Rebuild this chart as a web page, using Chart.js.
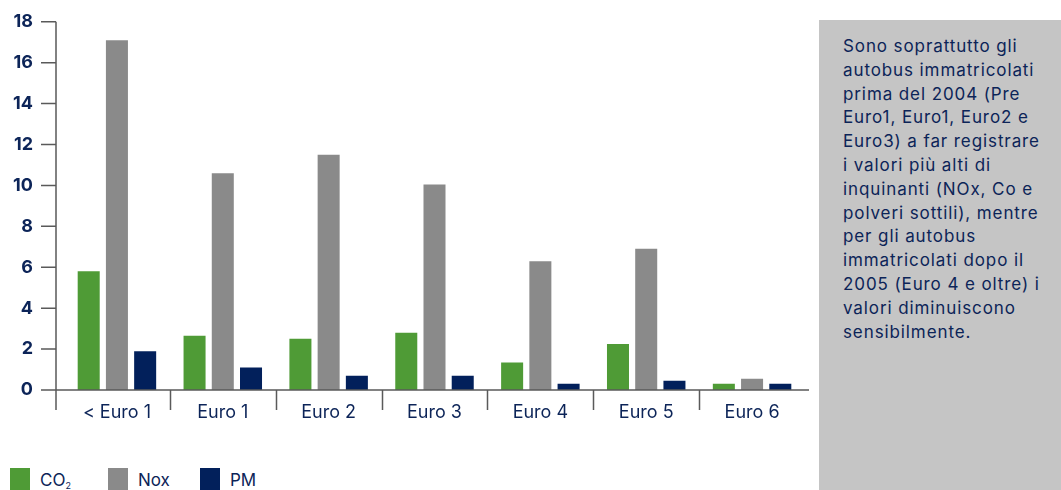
<!DOCTYPE html>
<html>
<head>
<meta charset="utf-8">
<script src="https://cdn.jsdelivr.net/npm/chart.js@4"></script>
<style>
  html, body { margin: 0; padding: 0; background: #fff; }
  body { width: 1061px; height: 490px; position: relative; overflow: hidden; font-family: Inter, "Noto Sans", sans-serif; color: #0c2458; }
  #wrap { position: absolute; left: 0; top: -20px; width: 820px; height: 452px; }
  #note { position: absolute; left: 819px; top: 20px; width: 218px; height: 470px; background: #c5c5c5;
          padding: 15px 0 0 24px; font-size: 17px; letter-spacing: 0.9px; line-height: 23.8px; color: #0c2458; }
  #legend { position: absolute; left: 10px; top: 468px; font-size: 17px; }
  .item { position: absolute; top: 0; white-space: nowrap; }
  .sw { position: absolute; left: 0; top: 0; width: 20px; height: 22px; }
  .lb { position: absolute; left: 30px; top: 2px; }
  sub { font-size: 9px; vertical-align: -3px; }
</style>
</head>
<body>
<div id="wrap"><canvas id="chart"></canvas></div>
<div id="note">Sono soprattutto gli<br>autobus immatricolati<br>prima del 2004 (Pre<br>Euro1, Euro1, Euro2 e<br>Euro3) a far registrare<br>i valori più alti di<br>inquinanti (NOx, Co e<br>polveri sottili), mentre<br>per gli autobus<br>immatricolati dopo il<br>2005 (Euro 4 e oltre) i<br>valori diminuiscono<br>sensibilmente.</div>
<div id="legend">
  <div class="item" style="left:0"><div class="sw" style="background:#4f9b36"></div><div class="lb">CO<sub>2</sub></div></div>
  <div class="item" style="left:98px"><div class="sw" style="background:#8a8a8a"></div><div class="lb">Nox</div></div>
  <div class="item" style="left:190px"><div class="sw" style="background:#02205b"></div><div class="lb">PM</div></div>
</div>
<script>
const categories = ['< Euro 1', 'Euro 1', 'Euro 2', 'Euro 3', 'Euro 4', 'Euro 5', 'Euro 6'];
const co2 = [5.8, 2.65, 2.5, 2.8, 1.35, 2.25, 0.3];
const nox = [17.1, 10.6, 11.5, 10.05, 6.3, 6.9, 0.55];
const pm = [1.9, 1.1, 0.7, 0.7, 0.3, 0.45, 0.3];
const yTicks = [0, 2, 4, 6, 8, 10, 12, 14, 16, 18];

const navy = '#0c2458';
const axisColor = '#5a5a5a';

// axis lines and tick marks, drawn by hand to match the original layout
const axisPlugin = {
    id: 'axisLines',
    afterDraw(chart) {
        const ctx = chart.ctx;
        const y = chart.scales.y;
        const area = chart.chartArea;
        const axisX = area.left - 8;
        const zeroY = y.getPixelForValue(0);
        ctx.save();
        ctx.strokeStyle = axisColor;
        ctx.lineWidth = 1.5;
        ctx.beginPath();
        ctx.moveTo(axisX, y.getPixelForValue(18));
        ctx.lineTo(axisX, zeroY + 20);
        ctx.moveTo(axisX - 15, zeroY);
        ctx.lineTo(area.right + 4, zeroY);
        yTicks.forEach(v => {
            const py = y.getPixelForValue(v);
            ctx.moveTo(axisX - 15, py);
            ctx.lineTo(axisX, py);
        });
        const step = (area.right - area.left) / categories.length;
        for (let i = 1; i < categories.length; i++) {
            const px = Math.round(area.left + step * i) + 0.5;
            ctx.moveTo(px, zeroY);
            ctx.lineTo(px, zeroY + 20);
        }
        ctx.stroke();
        ctx.restore();
    }
};

new Chart(document.getElementById('chart'), {
    type: 'bar',
    data: {
        labels: categories,
        datasets: [
            { label: 'CO2', data: co2, backgroundColor: '#4f9b36' },
            { label: 'Nox', data: nox, backgroundColor: '#8a8a8a' },
            { label: 'PM', data: pm, backgroundColor: '#02205b' }
        ]
    },
    options: {
        responsive: true,
        maintainAspectRatio: false,
        animation: false,
        datasets: { bar: { categoryPercentage: 0.8, barPercentage: 0.78 } },
        layout: { padding: { top: 0, right: 15, left: 0, bottom: 0 } },
        plugins: { legend: { display: false }, tooltip: { enabled: false } },
        scales: {
            x: {
                grid: { display: false, drawTicks: false },
                border: { display: false },
                ticks: { color: navy, font: { family: 'Inter', size: 18 }, padding: 12 },
                afterFit(scale) { scale.height = 42; }
            },
            y: {
                min: 0,
                max: 18,
                grid: { display: false, drawTicks: false },
                border: { display: false },
                afterBuildTicks(scale) { scale.ticks = yTicks.map(v => ({ value: v })); },
                ticks: { color: navy, font: { family: 'Inter', size: 18, weight: '700' }, padding: 31 },
                afterFit(scale) { scale.width = 64; }
            }
        }
    },
    plugins: [axisPlugin]
});
</script>
</body>
</html>
